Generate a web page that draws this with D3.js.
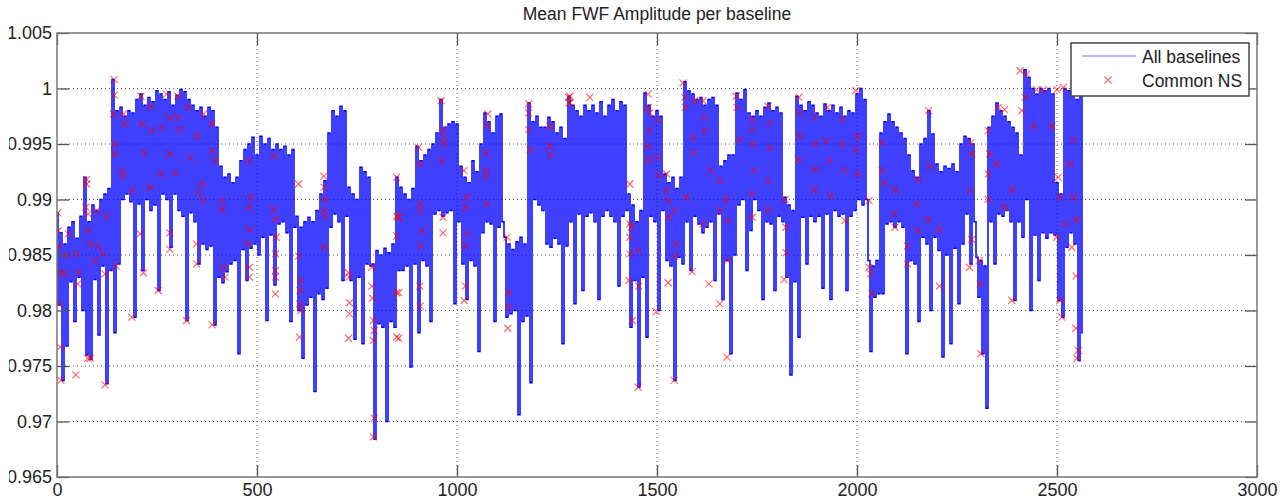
<!DOCTYPE html>
<html>
<head>
<meta charset="utf-8">
<script src="https://d3js.org/d3.v7.min.js"></script>
<style>
  body { margin: 0; background: #fff; }
  text { font-family: "Liberation Sans", Arial, sans-serif; }
</style>
</head>
<body>
<div id="chart"></div>
<script>
var width = 1288, height = 501;

var chartTitle = "Mean FWF Amplitude per baseline";
var xTicks = [0, 500, 1000, 1500, 2000, 2500, 3000];
var yTicks = [0.965, 0.97, 0.975, 0.98, 0.985, 0.99, 0.995, 1, 1.005];
var yTickLabels = ["0.965", "0.97", "0.975", "0.98", "0.985", "0.99", "0.995", "1", "1.005"];
var legendLabels = ["All baselines", "Common NS"];

// mean amplitude, read every 5 baselines (peaks and dips alternate), one row per 100 baselines
var allBaselines = [
  .9888,.9805,.9870,.9737,.9860,.9768,.9875,.9826,.9880,.9790,.9865,.9830,.9885,.9800,.9920,.9760,.9880,.9756,.9895,.9828,
  .9890,.9778,.9900,.9840,.9905,.9734,.9910,.9836,1.0008,.9780,.9980,.9842,.9983,.9900,.9975,.9905,.9980,.9898,.9978,.9794,
  .9990,.9896,.9995,.9836,.9985,.9900,.9992,.9890,.9988,.9895,.9998,.9818,.9995,.9905,.9990,.9900,.9997,.9857,.9985,.9905,
  .9994,.9890,.9999,.9885,.9997,.9791,.9990,.9888,.9985,.9880,.9980,.9842,.9983,.9860,.9975,.9855,.9983,.9858,.9980,.9787,
  .9965,.9830,.9930,.9825,.9920,.9835,.9923,.9842,.9915,.9845,.9920,.9761,.9935,.9855,.9945,.9827,.9950,.9856,.9956,.9860,
  .9940,.9850,.9957,.9866,.9950,.9791,.9955,.9868,.9945,.9823,.9950,.9878,.9945,.9880,.9948,.9870,.9940,.9790,.9945,.9875,
  .9885,.9800,.9875,.9757,.9880,.9805,.9884,.9812,.9880,.9727,.9890,.9815,.9905,.9810,.9917,.9820,.9960,.9875,.9980,.9887,
  .9975,.9880,.9984,.9827,.9980,.9885,.9911,.9827,.9905,.9774,.9900,.9830,.9929,.9770,.9925,.9842,.9920,.9840,.9842,.9684,
  .9854,.9788,.9850,.9785,.9856,.9700,.9852,.9790,.9860,.9785,.9920,.9836,.9911,.9836,.9905,.9840,.9900,.9749,.9910,.9842,
  .9948,.9780,.9935,.9845,.9940,.9840,.9945,.9790,.9950,.9887,.9960,.9890,.9990,.9885,.9965,.9888,.9968,.9890,.9970,.9806,
  .9968,.9880,.9930,.9842,.9920,.9810,.9915,.9845,.9935,.9840,.9925,.9763,.9950,.9870,.9978,.9880,.9970,.9878,.9960,.9790,
  .9975,.9875,.9977,.9880,.9866,.9794,.9860,.9797,.9855,.9800,.9862,.9706,.9866,.9790,.9860,.9795,.9987,.9735,.9970,.9900,
  .9975,.9895,.9965,.9890,.9965,.9860,.9974,.9857,.9970,.9865,.9960,.9860,.9965,.9770,.9955,.9858,.9993,.9880,.9985,.9806,
  .9980,.9887,.9975,.9818,.9985,.9885,.9980,.9888,.9985,.9880,.9978,.9810,.9988,.9885,.9975,.9890,.9985,.9885,.9990,.9880,
  .9980,.9822,.9988,.9885,.9985,.9890,.9905,.9785,.9895,.9827,.9880,.9731,.9890,.9830,.9996,.9776,.9985,.9885,.9975,.9880,
  .9980,.9800,.9975,.9890,.9923,.9845,.9915,.9840,.9920,.9737,.9910,.9848,.9920,.9842,1.0006,.9880,.9998,.9836,.9995,.9885,
  .9990,.9878,.9992,.9870,.9985,.9875,.9990,.9880,.9992,.9827,.9985,.9887,.9930,.9810,.9935,.9845,.9940,.9761,.9940,.9850,
  .9996,.9895,.9990,.9900,.9999,.9836,.9978,.9872,.9975,.9900,.9980,.9890,.9975,.9810,.9983,.9880,.9987,.9878,.9980,.9818,
  .9983,.9885,.9978,.9880,.9902,.9830,.9895,.9742,.9890,.9826,.9993,.9776,.9985,.9884,.9980,.9842,.9988,.9885,.9985,.9880,
  .9978,.9885,.9975,.9820,.9986,.9887,.9980,.9810,.9985,.9890,.9978,.9885,.9983,.9887,.9975,.9818,.9980,.9885,.9978,.9890,
  .9995,.9900,1.0000,.9895,.9990,.9900,.9845,.9763,.9840,.9812,.9845,.9815,.9960,.9815,.9970,.9878,.9977,.9880,.9970,.9875,
  .9965,.9880,.9960,.9875,.9955,.9761,.9940,.9845,.9926,.9842,.9920,.9790,.9950,.9866,.9955,.9860,.9980,.9800,.9959,.9866,
  .9932,.9854,.9925,.9758,.9930,.9850,.9928,.9770,.9932,.9856,.9925,.9806,.9950,.9860,.9957,.9887,.9955,.9842,.9950,.9880,
  .9848,.9812,.9845,.9761,.9840,.9712,.9965,.9880,.9975,.9842,.9987,.9887,.9980,.9885,.9975,.9890,.9970,.9880,.9965,.9809,
  .9960,.9880,.9940,.9866,1.0017,.9900,1.0010,.9800,1.0000,.9868,.9995,.9827,1.0000,.9870,.9998,.9865,1.0000,.9870,.9995,.9868,
  .9915,.9809,.9905,.9794,1.0000,.9857,.9998,.9870,.9995,.9860,.9990,.9755,.9995,.9780
];

// common NS baselines: [baseline, amplitude]
var commonNS = [
  [2,.9888],[3,.9872],[5,.9858],[10,.9834],[5,.9806],[8,.9767],[10,.9737],[20,.9833],[24,.9850],[28,.9869],
  [47,.9742],[49,.9851],[52,.9824],[53,.9834],[72,.9893],[74,.9918],[74,.9914],[77,.9757],[78,.9887],[78,.9872],
  [83,.9860],[83,.9757],[95,.9845],[99,.9890],[103,.9858],[116,.9851],[120,.9833],[120,.9733],[124,.9885],[141,.9977],
  [143,1.0008],[143,.9994],[145,.9950],[145,.9941],[148,.9840],[162,.9926],[166,.9977],[166,.9921],[170,.9968],[187,.9794],
  [188,.9908],[208,.9869],[210,.9993],[212,.9968],[216,.9834],[218,.9942],[233,.9984],[233,.9911],[237,.9962],[253,.9818],
  [260,.9923],[262,.9965],[274,.9995],[282,.9974],[282,.9941],[282,.9870],[282,.9855],[295,.9924],[302,.9993],[303,.9974],
  [305,.9963],[324,.9791],[328,.9983],[332,.9938],[349,.9957],[349,.9860],[349,.9842],[353,.9906],[362,.9914],[366,.9977],
  [366,.9899],[387,.9968],[387,.9944],[388,.9787],[395,.9935],[412,.9899],[412,.9891],[416,.9839],[420,.9830],
  [477,.9860],[479,.9935],[481,.9893],[481,.9873],[481,.9839],[481,.9830],[485,.9902],[542,.9891],[543,.9939],[546,.9882],
  [546,.9851],[546,.9836],[546,.9830],[546,.9815],[548,.9866],[604,.9914],[604,.9849],[606,.9806],[606,.9776],[608,.9818],
  [610,.9827],[610,.9800],[667,.9921],[668,.9911],[668,.9890],[668,.9857],[670,.9900],[670,.9885],[729,.9834],[729,.9775],
  [730,.9830],[731,.9807],[731,.9797],[787,.9839],[787,.9822],[789,.9811],[791,.9791],[791,.9773],[791,.9686],[793,.9782],
  [793,.9703],[849,.9920],[849,.9885],[849,.9867],[849,.9816],[849,.9776],[852,.9884],
  [854,.9884],[854,.9816],[854,.9775],[904,.9947],[907,.9932],[907,.9896],[907,.9822],[908,.9890],[908,.9858],[908,.9804],
  [913,.9872],[960,.9989],[961,.9935],[965,.9963],[965,.9884],[965,.9870],[967,.9956],[968,.9950],[1017,.9926],[1018,.9809],
  [1021,.9893],[1021,.9858],[1021,.9822],[1025,.9902],[1025,.9869],[1073,.9942],[1073,.9926],[1073,.9921],[1073,.9896],[1075,.9967],
  [1077,.9977],[1125,.9866],[1127,.9784],[1129,.9816],[1129,.9803],[1179,.9986],[1179,.9978],[1179,.9963],[1183,.9945],[1232,.9966],
  [1232,.9948],[1233,.9940],[1279,.9992],[1281,.9987],
  [1282,.9993],[1282,.9987],[1332,.9992],[1430,.9827],[1432,.9914],[1432,.9878],[1432,.9866],[1432,.9851],[1436,.9875],[1438,.9791],
  [1453,.9854],[1453,.9731],[1454,.9822],[1478,.9995],[1478,.9983],[1478,.9948],[1478,.9936],[1480,.9962],[1482,.9978],[1498,.9799],
  [1501,.9971],[1501,.9938],[1503,.9922],[1524,.9923],[1524,.9908],[1528,.9899],[1528,.9884],[1528,.9825],[1543,.9737],[1544,.9890],
  [1544,.9849],[1546,.9860],[1565,1.0005],[1569,.9992],[1571,.9983],[1573,.9902],[1588,.9835],[1590,.9956],[1590,.9942],[1594,.9989],
  [1615,.9989],[1615,.9878],[1618,.9974],[1619,.9962],[1630,.9824],[1634,.9926],[1657,.9917],[1657,.9890],[1657,.9806],[1673,.9900],
  [1675,.9758],[1676,.9881],[1676,.9845],[1698,.9993],[1700,.9983],[1706,.9954],
  [1738,.9972],[1738,.9963],[1738,.9905],[1738,.9884],[1740,.9950],[1743,.9926],[1778,.9984],[1778,.9917],[1778,.9891],[1782,.9969],
  [1782,.9947],[1818,.9828],[1820,.9900],[1822,.9875],[1823,.9852],[1853,.9936],[1855,.9992],[1857,.9978],[1857,.9957],[1893,.9974],
  [1893,.9909],[1895,.9950],[1895,.9927],[1923,.9953],[1926,.9983],[1930,.9935],[1933,.9903],[1962,.9950],[1963,.9972],[1967,.9926],
  [1970,.9881],[1997,.9998],[1998,.9945],[2001,.9957],[2001,.9923],[2030,.9899],[2030,.9839],[2034,.9833],[2037,.9815],[2063,.9951],
  [2063,.9926],[2068,.9915],[2093,.9887],[2095,.9909],[2095,.9875],[2126,.9858],[2126,.9842],
  [2149,.9896],[2151,.9872],[2153,.9918],[2179,.9980],[2179,.9882],[2181,.9930],[2206,.9873],[2206,.9822],[2281,.9839],[2283,.9908],
  [2285,.9951],[2287,.9941],[2287,.9864],[2306,.9845],[2308,.9824],[2310,.9761],[2328,.9962],[2328,.9923],[2328,.9900],[2332,.9941],
  [2349,.9932],[2353,.9983],[2369,.9981],[2369,.9893],[2387,.9909],[2387,.9809],[2408,1.0016],[2412,.9980],[2420,.9992],[2424,1.0013],
  [2441,.9966],[2449,.9999],[2466,.9999],[2487,.9966],[2499,.9866],[2500,.9999],[2503,.9920],[2507,.9902],[2507,.9809],[2512,.9794],
  [2516,1.0001],[2520,.9878],[2533,.9932],[2537,.9857],[2541,.9953],[2541,.9902],[2547,.9784],[2548,.9831],[2549,.9882],[2550,.9757],
  [2553,.9764]
];

var plotLeft = 57, plotRight = 1257, plotTop = 33, plotBottom = 477;

var svg = d3.select("#chart")
  .append("svg")
    .attr("width", width)
    .attr("height", height);

var x = d3.scaleLinear().domain([0, 3000]).range([plotLeft, plotRight]);
var y = d3.scaleLinear().domain([0.965, 1.005]).range([plotBottom, plotTop]);

svg.append("defs").append("clipPath").attr("id", "plotclip")
  .append("rect").attr("x", plotLeft).attr("y", plotTop)
  .attr("width", plotRight - plotLeft).attr("height", plotBottom - plotTop);

// dotted grid
svg.append("g").selectAll("line")
  .data(xTicks.slice(1, -1))
  .join("line")
    .attr("x1", d => x(d)).attr("x2", d => x(d))
    .attr("y1", plotTop).attr("y2", plotBottom)
    .attr("stroke", "#555").attr("stroke-width", 1).attr("stroke-dasharray", "1,3");
svg.append("g").selectAll("line")
  .data(yTicks.slice(1, -1))
  .join("line")
    .attr("x1", plotLeft).attr("x2", plotRight)
    .attr("y1", d => y(d)).attr("y2", d => y(d))
    .attr("stroke", "#555").attr("stroke-width", 1).attr("stroke-dasharray", "1,3");

// All baselines line
var pts = allBaselines.map(function(v, i) { return [i * 5, v]; });
var line = d3.line()
  .x(d => x(d[0]))
  .y(d => y(d[1]))
  .curve(d3.curveStep);
svg.append("path")
  .datum(pts)
  .attr("clip-path", "url(#plotclip)")
  .attr("d", line)
  .attr("fill", "none")
  .attr("stroke", "#0000ff")
  .attr("stroke-width", 1.5);

// Common NS markers
var cross = "M-3.5,-3.5L3.5,3.5M-3.5,3.5L3.5,-3.5";
svg.append("g")
  .attr("clip-path", "url(#plotclip)")
  .selectAll("path")
  .data(commonNS)
  .join("path")
    .attr("d", cross)
    .attr("transform", d => "translate(" + x(d[0]) + "," + y(d[1]) + ")")
    .attr("fill", "none")
    .attr("stroke", "#ff0000")
    .attr("stroke-opacity", 0.6)
    .attr("stroke-width", 1.2);

// axes with inward ticks
function styleAxis(g) {
  g.select(".domain").remove();
  g.attr("font-size", 18).attr("font-family", "'Liberation Sans', Arial, sans-serif").attr("color", "#222");
  g.selectAll(".tick line").attr("stroke", "#555").attr("stroke-width", 1.3);
}
svg.append("g")
  .attr("transform", "translate(0," + plotBottom + ")")
  .call(d3.axisBottom(x).tickValues(xTicks).tickFormat(d3.format("d")).tickSizeInner(-12).tickSizeOuter(0).tickPadding(6))
  .call(styleAxis);
svg.append("g")
  .attr("transform", "translate(0," + plotTop + ")")
  .call(d3.axisTop(x).tickValues(xTicks).tickSizeInner(-12).tickSizeOuter(0).tickFormat(""))
  .call(styleAxis);
svg.append("g")
  .attr("transform", "translate(" + plotLeft + ",0)")
  .call(d3.axisLeft(y).tickValues(yTicks).tickFormat((d, i) => yTickLabels[i]).tickSizeInner(-12).tickSizeOuter(0).tickPadding(5))
  .call(styleAxis);
svg.append("g")
  .attr("transform", "translate(" + plotRight + ",0)")
  .call(d3.axisRight(y).tickValues(yTicks).tickSizeInner(-12).tickSizeOuter(0).tickFormat(""))
  .call(styleAxis);

// the figure is cut on its left edge
svg.append("rect").attr("x", 0).attr("y", 0).attr("width", 9).attr("height", height).attr("fill", "#fff");

// box
svg.append("rect")
  .attr("x", plotLeft).attr("y", plotTop).attr("width", plotRight - plotLeft).attr("height", plotBottom - plotTop)
  .attr("fill", "none").attr("stroke", "#777").attr("stroke-width", 1.5);

// title
svg.append("text")
  .attr("x", (plotLeft + plotRight) / 2).attr("y", 20)
  .attr("text-anchor", "middle")
  .attr("font-size", 17.5)
  .attr("fill", "#222")
  .text(chartTitle);

// legend
var legend = svg.append("g");
legend.append("rect")
  .attr("x", 1071).attr("y", 43).attr("width", 178).attr("height", 53)
  .attr("fill", "#fff").attr("stroke", "#444").attr("stroke-width", 1.5);
legend.append("line")
  .attr("x1", 1082).attr("x2", 1136).attr("y1", 56).attr("y2", 56)
  .attr("stroke", "#0000ff").attr("stroke-opacity", 0.55).attr("stroke-width", 1.2);
legend.append("path")
  .attr("d", cross)
  .attr("transform", "translate(1108,80)")
  .attr("fill", "none").attr("stroke", "#ff0000").attr("stroke-opacity", 0.6).attr("stroke-width", 1.2);
legend.selectAll("text")
  .data(legendLabels)
  .join("text")
    .attr("x", 1142)
    .attr("y", (d, i) => 63 + i * 24)
    .attr("font-size", 17.5)
    .attr("fill", "#222")
    .text(d => d);
</script>
</body>
</html>
